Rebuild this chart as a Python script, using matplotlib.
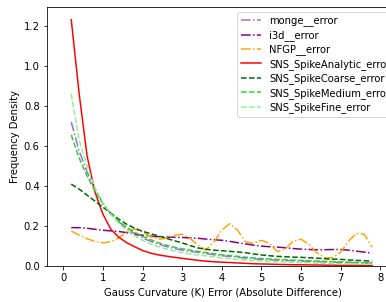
import numpy as np
import matplotlib.pyplot as plt

# error grid (Gauss curvature, absolute difference)
x = np.round(np.arange(0.2, 7.81, 0.2), 2)

monge = [0.72, 0.575, 0.47, 0.385, 0.315, 0.262, 0.222, 0.19, 0.163, 0.142,
         0.125, 0.111, 0.099, 0.089, 0.081, 0.075, 0.07, 0.064, 0.058, 0.053,
         0.049, 0.045, 0.041, 0.038, 0.035, 0.033, 0.031, 0.029, 0.028, 0.026,
         0.025, 0.023, 0.022, 0.021, 0.02, 0.019, 0.018, 0.017, 0.016]
i3d = [0.193, 0.193, 0.19, 0.185, 0.18, 0.177, 0.174, 0.168, 0.161, 0.155,
       0.151, 0.148, 0.146, 0.145, 0.144, 0.142, 0.14, 0.136, 0.133, 0.13,
       0.125, 0.118, 0.112, 0.106, 0.101, 0.098, 0.096, 0.093, 0.089, 0.086,
       0.084, 0.083, 0.083, 0.084, 0.084, 0.081, 0.076, 0.071, 0.066]
nfgp = [0.176, 0.155, 0.138, 0.124, 0.117, 0.123, 0.142, 0.172, 0.186, 0.172,
        0.148, 0.135, 0.14, 0.155, 0.16, 0.14, 0.105, 0.082, 0.12, 0.18,
        0.213, 0.18, 0.122, 0.115, 0.13, 0.115, 0.074, 0.085, 0.125, 0.136,
        0.11, 0.068, 0.043, 0.042, 0.07, 0.125, 0.165, 0.16, 0.095]
analytic = [1.23, 0.86, 0.55, 0.37, 0.26, 0.185, 0.145, 0.118, 0.098, 0.079,
            0.066, 0.057, 0.051, 0.045, 0.04, 0.035, 0.03, 0.026, 0.023, 0.021,
            0.019, 0.017, 0.015, 0.013, 0.012, 0.011, 0.01, 0.009, 0.008, 0.008,
            0.007, 0.007, 0.006, 0.006, 0.005, 0.005, 0.005, 0.004, 0.004]
coarse = [0.41, 0.385, 0.355, 0.325, 0.295, 0.265, 0.235, 0.21, 0.19, 0.175,
          0.163, 0.152, 0.14, 0.128, 0.117, 0.104, 0.092, 0.085, 0.081, 0.078,
          0.075, 0.072, 0.068, 0.062, 0.057, 0.053, 0.05, 0.048, 0.046, 0.045,
          0.043, 0.041, 0.038, 0.036, 0.035, 0.032, 0.03, 0.028, 0.026]
medium = [0.655, 0.54, 0.45, 0.375, 0.312, 0.262, 0.225, 0.195, 0.17, 0.15,
          0.133, 0.118, 0.106, 0.096, 0.088, 0.081, 0.075, 0.069, 0.063, 0.058,
          0.054, 0.05, 0.046, 0.042, 0.039, 0.037, 0.035, 0.033, 0.031, 0.03,
          0.029, 0.027, 0.025, 0.024, 0.022, 0.021, 0.02, 0.018, 0.017]
fine = [0.86, 0.63, 0.5, 0.39, 0.315, 0.26, 0.215, 0.18, 0.152, 0.13,
        0.112, 0.098, 0.087, 0.077, 0.069, 0.062, 0.057, 0.052, 0.047, 0.042,
        0.038, 0.035, 0.032, 0.029, 0.027, 0.025, 0.023, 0.021, 0.02, 0.019,
        0.018, 0.016, 0.015, 0.014, 0.013, 0.013, 0.012, 0.011, 0.011]

series = [
    ('monge__error', monge, 'mediumpurple', '-.'),
    ('i3d__error', i3d, 'purple', '-.'),
    ('NFGP__error', nfgp, 'orange', '-.'),
    ('SNS_SpikeAnalytic_error', analytic, 'red', '-'),
    ('SNS_SpikeCoarse_error', coarse, 'darkgreen', '--'),
    ('SNS_SpikeMedium_error', medium, 'limegreen', '--'),
    ('SNS_SpikeFine_error', fine, 'lightgreen', '--'),
]

fig = plt.figure(figsize=(386 / 72, 302 / 72), dpi=72)
# the original plot runs past the right edge of the image
ax = fig.add_axes([0.121, 0.118, 0.914, 0.86])

for name, y, color, ls in series:
    ax.plot(x, y, linestyle=ls, color=color, label=name)

ax.set_xlim(-0.42, 8.49)
ax.set_ylim(0, 1.295)
ax.set_xlabel('Gauss Curvature (K) Error (Absolute Difference)')
ax.set_ylabel('Frequency Density')
ax.legend(loc='upper right', labelspacing=0.35)

fig.savefig('out.png', dpi=72)
